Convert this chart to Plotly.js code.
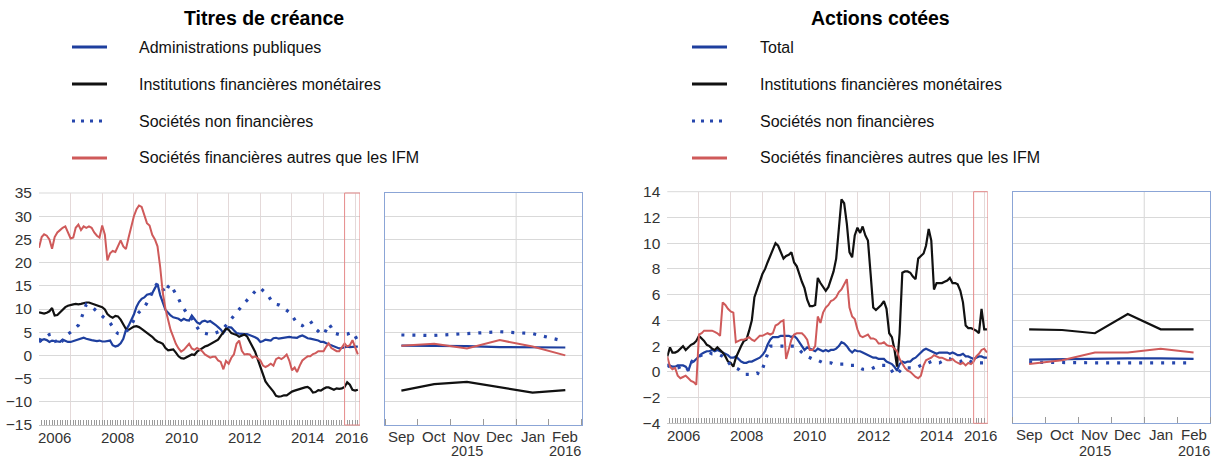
<!DOCTYPE html>
<html>
<head>
<meta charset="utf-8">
<script src="https://cdn.plot.ly/plotly-3.0.1.min.js"></script>
<style>html,body{margin:0;padding:0;background:#fff;}#chart{width:1214px;height:459px;}</style>
</head>
<body>
<div id="chart"></div>
<script>
// ---------------- DATA ----------------
// Monthly observations Jan 2006 .. Feb 2016 (annual growth rates, %)
const firstMonth = '2006-01';
const monthCount = 122;

// Titres de créance
const debtAdminPub = [3.6,3.3,3.5,3.3,2.9,3.2,3.1,3.0,2.9,3.4,
3.2,2.9,2.9,3.1,3.2,3.4,3.7,3.8,3.6,3.4,
3.3,3.2,3.1,3.2,3.0,3.0,3.1,3.2,2.2,1.9,
2.1,2.6,3.6,5.5,6.4,7.6,8.8,10.5,11.5,12.2,
12.5,13.1,13.2,13.4,14.5,15.4,13.0,11.2,9.8,9.2,
8.6,8.2,8.0,7.9,7.5,7.9,7.6,7.5,8.6,7.8,
7.1,6.8,7.3,7.5,7.2,7.4,6.9,6.6,6.1,5.6,
4.8,5.6,6.1,6.0,5.4,4.8,4.7,4.6,4.6,4.6,
4.4,4.2,3.9,3.6,2.9,3.1,3.4,3.3,3.2,3.7,
3.8,3.6,3.7,3.9,4.0,4.0,3.9,3.9,3.8,4.1,
4.3,4.0,3.7,3.6,3.5,3.3,3.2,2.9,2.9,2.6,
2.4,2.2,1.9,1.8,1.5,1.6,1.8,1.9,1.8,1.9,
1.9,1.9];
const debtIFM = [9.3,9.1,9.0,9.2,9.5,10.2,8.6,8.7,9.3,10.0,
10.4,10.7,10.9,11.0,11.1,11.0,11.1,11.3,11.4,11.4,
11.2,11.1,10.9,10.7,10.4,9.9,8.9,8.4,8.1,8.5,
8.4,7.7,6.8,5.7,5.5,5.9,6.2,6.3,6.1,5.7,
5.3,4.7,4.3,4.0,3.4,3.0,2.8,2.5,1.6,1.1,
1.2,1.3,0.6,-0.2,-0.6,-0.7,-0.4,-0.1,0.2,0.1,
0.8,1.2,1.6,1.9,2.1,2.4,2.7,3.1,3.4,4.2,
5.1,5.8,5.5,4.8,4.6,4.4,4.0,4.2,4.5,4.1,
3.0,2.0,0.8,-0.8,-2.5,-4.2,-5.6,-6.4,-7.0,-7.8,
-8.7,-8.9,-8.8,-8.6,-8.6,-8.2,-7.8,-7.6,-7.4,-7.2,
-7.0,-6.9,-6.8,-7.2,-8.0,-7.9,-7.5,-7.6,-7.2,-6.9,
-6.9,-7.1,-7.4,-7.1,-7.2,-7.1,-6.8,-5.8,-6.3,-7.4,
-7.6,-7.4];
const debtSNF = [2.9,3.3,3.8,4.2,4.5,4.6,3.5,2.2,2.5,3.2,
4.0,4.6,5.0,5.4,6.0,6.5,7.8,9.5,11.0,10.8,
10.5,10.0,9.5,9.0,8.5,8.0,7.5,7.0,6.2,5.2,
4.7,4.6,4.8,5.2,5.6,6.5,7.6,8.7,9.3,9.8,
10.4,11.3,12.3,13.5,14.8,15.6,15.2,14.2,13.4,14.8,
15.3,14.2,13.3,12.2,11.0,10.0,9.2,8.6,8.0,7.0,
6.0,5.2,4.9,4.8,4.6,4.5,4.6,4.8,5.0,5.3,
5.8,6.5,7.3,8.0,8.6,9.4,10.0,10.6,11.3,11.9,
12.6,13.2,13.8,14.4,14.5,14.0,13.4,12.9,12.0,11.3,
11.0,10.9,10.6,10.2,9.8,9.3,8.6,7.7,6.9,6.6,
6.4,6.8,7.3,7.4,6.5,5.7,5.2,4.6,4.5,5.5,
6.8,6.0,4.8,4.6,4.5,4.5,4.5,4.6,4.8,5.0,
4.2,3.0];
const debtAutres = [23.2,25.5,26.1,25.8,25.0,23.0,25.5,26.5,27.0,27.5,
27.8,26.5,25.2,25.4,27.5,28.2,27.0,27.8,27.5,27.8,
27.5,26.5,25.8,25.4,28.0,26.0,20.5,22.0,22.5,22.3,
23.6,24.8,23.5,22.9,25.4,27.5,30.0,31.5,32.3,32.0,
30.5,28.5,28.0,26.0,25.0,23.5,19.0,13.5,10.0,7.5,
5.5,4.0,2.5,1.5,0.8,1.2,2.0,2.5,1.5,1.2,
1.6,1.2,0.9,0.2,-0.2,-0.5,-0.3,-0.3,-1.1,-1.4,
-3.0,-1.2,-1.8,-0.5,0.2,2.5,3.2,1.0,0.2,0.3,
0.2,-0.5,-0.2,-0.6,-1.1,-2.2,-2.5,-2.2,-1.8,-2.2,
-0.8,-0.5,-0.8,-0.4,0.2,-1.1,-3.2,-2.6,-3.6,-2.2,
-1.1,-0.6,-0.2,-0.2,0.3,0.5,0.9,0.9,0.9,1.9,
2.6,1.6,1.2,0.9,0.9,1.9,2.6,1.9,2.2,3.3,
1.9,0.2];

// Actions cotées
const eqTotal = [0.6,0.5,0.4,0.4,0.5,0.5,0.5,0.4,0.1,0.7,
0.8,1.0,1.2,1.4,1.5,1.6,1.6,1.7,1.6,1.7,
1.6,1.5,1.4,1.3,1.1,1.1,1.2,1.0,0.8,0.7,
0.7,0.8,0.8,0.9,1.0,1.1,1.3,1.6,2.1,2.5,
2.7,2.7,2.7,2.8,2.8,2.8,2.8,2.7,2.8,2.6,
2.3,2.0,1.7,1.9,1.8,1.7,1.6,1.8,1.7,1.6,
1.7,1.6,1.7,1.7,1.8,2.0,2.3,2.2,2.0,1.7,
1.5,1.7,1.6,1.6,1.5,1.4,1.3,1.2,1.1,1.1,
1.0,1.0,1.0,0.8,0.7,0.6,0.4,0.1,0.6,0.8,
0.7,0.8,0.8,1.0,1.1,1.3,1.5,1.7,1.8,1.7,
1.6,1.5,1.4,1.5,1.5,1.5,1.5,1.4,1.5,1.4,
1.3,1.3,1.4,1.2,1.2,1.1,1.0,1.1,1.2,1.2,
1.1,1.1];
const eqIFM = [1.2,1.9,1.5,1.5,1.6,1.8,2.0,1.7,1.9,2.1,
2.2,2.4,2.8,2.6,2.4,2.1,2.0,1.8,1.7,1.9,
1.7,1.5,1.2,0.8,0.7,0.4,1.1,1.6,2.0,2.4,
2.5,3.2,4.0,5.8,6.5,7.0,7.6,8.0,8.5,9.0,
9.4,10.0,9.8,9.3,8.8,9.0,9.1,9.3,8.5,8.2,
7.6,7.0,6.5,5.6,5.1,5.1,5.2,7.3,6.9,6.6,
6.3,6.6,7.1,7.8,8.8,11.0,13.4,13.1,11.5,9.3,
8.9,10.6,11.2,10.8,11.3,10.6,10.2,7.6,5.0,4.8,
5.0,5.2,5.5,4.9,3.0,2.7,1.8,0.4,3.0,7.7,
7.8,7.8,7.7,7.4,7.2,8.8,9.0,9.2,9.8,11.1,
10.2,6.4,6.9,6.9,6.9,7.0,7.1,7.3,6.9,6.9,
6.8,6.3,5.4,3.6,3.4,3.4,3.3,3.2,3.0,4.9,
3.3,3.3];
const eqSNF = [0.5,0.4,0.3,0.3,0.3,0.4,0.5,0.4,0.1,0.7,
1.0,1.1,1.2,1.3,1.4,1.5,1.5,1.4,1.4,1.4,
1.3,1.2,1.0,0.8,0.5,0.4,0.3,0.2,0.0,-0.2,
-0.2,-0.2,-0.2,-0.2,-0.1,-0.2,0.2,0.8,1.4,2.0,
2.0,2.0,2.0,2.0,2.0,1.9,2.0,2.0,2.0,1.9,
1.7,1.5,1.3,1.2,1.1,1.0,0.9,0.9,0.8,0.7,
0.7,0.7,0.7,0.6,0.6,0.6,0.6,0.6,0.6,0.5,
0.5,0.5,0.4,0.3,0.2,0.2,0.2,0.2,0.3,0.4,
0.5,0.5,0.5,0.5,0.4,0.1,-0.2,-0.2,0.1,0.3,
0.3,0.3,0.3,0.3,0.3,0.4,0.5,0.6,0.6,0.7,
0.8,0.8,0.7,0.7,0.8,0.9,1.0,1.0,0.9,0.8,
0.8,0.8,0.9,1.0,0.9,0.8,0.7,0.7,0.7,0.7,
0.7,0.7];
const eqAutres = [1.2,0.4,0.2,0.3,-0.3,-0.5,-0.4,-0.3,-0.5,-0.7,
-0.8,-1.0,2.9,3.0,3.2,3.2,3.2,3.2,3.1,3.0,
2.8,5.4,5.2,4.9,4.7,4.6,2.3,2.4,2.5,2.5,
2.6,2.7,2.5,2.4,2.6,2.8,2.8,2.9,3.0,2.9,
3.0,3.6,3.7,3.9,4.0,1.0,1.7,2.5,2.9,3.0,
3.0,3.0,2.8,2.5,1.7,1.7,2.0,4.3,3.8,4.6,
5.0,5.2,5.5,5.6,5.8,6.2,6.4,6.8,7.2,5.0,
4.3,4.1,3.3,2.8,2.7,2.8,2.9,2.6,2.6,2.5,
2.2,2.2,2.3,2.1,2.0,2.0,1.8,1.6,1.0,0.6,
0.3,0.1,0.0,-0.2,-0.4,-0.5,-0.3,0.5,0.9,1.0,
1.1,1.3,1.2,1.1,1.1,1.0,0.9,0.9,1.0,0.8,
0.7,0.6,0.7,0.5,0.7,0.6,0.8,1.2,1.4,1.7,
1.8,1.5];

// Recent months (right-hand panels)
const recentMonths = ['Sep','Oct','Nov','Dec','Jan','Feb'];
const recentYears = [{at: 2, text: '2015'}, {at: 5, text: '2016'}];
const highlightStart = '2015-09-01';
const debtRecentAdmin  = [2.1,2.1,2.0,1.8,1.7,1.7];
const debtRecentIFM    = [-7.6,-6.2,-5.7,-6.9,-8.0,-7.5];
const debtRecentSNF    = [4.4,4.3,4.7,5.1,4.7,3.0];
const debtRecentAutres = [2.1,2.5,1.5,3.3,1.9,0.0];
const eqRecentTotal  = [0.95,1.0,1.0,1.05,1.05,1.0];
const eqRecentIFM    = [3.3,3.25,3.0,4.5,3.3,3.3];
const eqRecentSNF    = [0.75,0.7,0.7,0.7,0.7,0.7];
const eqRecentAutres = [0.6,0.9,1.5,1.5,1.8,1.5];

// Titles and legend
const titleDebt = 'Titres de créance';
const titleEq = 'Actions cotées';
const legendDebt = ['Administrations publiques','Institutions financières monétaires','Sociétés non financières','Sociétés financières autres que les IFM'];
const legendEq = ['Total','Institutions financières monétaires','Sociétés non financières','Sociétés financières autres que les IFM'];
const yearLabels = ['2006','2008','2010','2012','2014','2016'];
const yearLabelPos = ['2006-07-01','2008-07-01','2010-07-01','2012-07-01','2014-07-01','2015-11-20'];

// ---------------- BUILD ----------------
const months = [];
(function(){ const [y0,m0] = firstMonth.split('-').map(Number);
  for (let i=0;i<monthCount;i++){ const t=(m0-1)+i; const y=y0+Math.floor(t/12), m=t%12+1;
    months.push(y+'-'+String(m).padStart(2,'0')+'-01'); } })();
const yearStarts = []; for (let y=2006;y<=2016;y++) yearStarts.push(y+'-01-01');
const idx = recentMonths.map((_,i)=>i);

const W=1214, H=459;
const px = v => v/W, py = v => 1 - v/H;
const FONT = '"Liberation Sans", Arial, Helvetica, sans-serif';
const C = {blue:'#1e3f9e', black:'#111111', dot:'#2747ad', red:'#cf5a5a', grid:'#d9d9d9', vgrid:'#e4d9d9', tick:'#9a9a9a', box:'#8ba5d6', hl:'#e58a8a', text:'#333333'};
const styles = [
  {color:C.blue, width:2.2},
  {color:C.black, width:2.2},
  {color:C.dot, width:3.2, dash:'3px,8px'},
  {color:C.red, width:2}
];
function tr(x, y, s, xa, ya){ return {x:x, y:y, type:'scatter', mode:'lines', line:Object.assign({}, s), xaxis:xa, yaxis:ya, showlegend:false, hoverinfo:'skip'}; }

const data = [];
[debtAdminPub, debtIFM, debtSNF, debtAutres].forEach((s,i)=>data.push(tr(months, s, styles[i], 'x', 'y')));
[debtRecentAdmin, debtRecentIFM, debtRecentSNF, debtRecentAutres].forEach((s,i)=>data.push(tr(idx, s, styles[i], 'x2', 'y2')));
[eqTotal, eqIFM, eqSNF, eqAutres].forEach((s,i)=>data.push(tr(months, s, styles[i], 'x3', 'y3')));
[eqRecentTotal, eqRecentIFM, eqRecentSNF, eqRecentAutres].forEach((s,i)=>data.push(tr(idx, s, styles[i], 'x4', 'y4')));

const L = {x0:39, x1:360, y0:193, y1:425, end:'2016-02-26'};
const LS = {x0:385, x1:581.7};
const R = {x0:667.3, x1:987.7, y0:191.7, y1:423.3, end:'2016-02-10'};
const RS = {x0:1012.7, x1:1210};

function mainX(dom, end){ return {domain:dom, type:'date', range:['2006-01-01', end], tickmode:'array', tickvals:yearStarts,
  ticktext:yearStarts.map(()=>''), showticklabels:false, ticks:'inside', ticklen:9, tickcolor:C.tick, tickwidth:1,
  showgrid:true, gridcolor:C.vgrid, gridwidth:1, showline:true, linecolor:'#c4c4c4', zeroline:false,
  minor:{dtick:'M1', tick0:'2006-01-01', ticks:'inside', ticklen:5, tickcolor:C.tick, tickwidth:1, showgrid:false}}; }
function mainY(dom, rng, dt){ return {domain:dom, range:rng, dtick:dt, tick0:0, tickmode:'linear', showgrid:true, gridcolor:C.grid,
  zeroline:false, ticks:'', showline:false, tickfont:{family:FONT, size:15.5, color:C.text}, ticklabelstandoff:6}; }
function smallX(dom){ return {domain:dom, range:[-0.5,5.5], tickmode:'array', tickvals:idx, ticktext:recentMonths.map(()=>''),
  showticklabels:false, ticks:'', showgrid:false, zeroline:false, showline:true, mirror:true, linecolor:C.box, linewidth:1,
  minor:{tickmode:'linear', tick0:0.5, dtick:1, ticks:'inside', ticklen:6, tickcolor:C.tick, showgrid:false}}; }
function smallY(dom, rng, dt){ return {domain:dom, range:rng, dtick:dt, tick0:0, tickmode:'linear', showgrid:true, gridcolor:C.grid,
  zeroline:false, ticks:'', showticklabels:false, showline:true, mirror:true, linecolor:C.box, linewidth:1}; }

const yDomL = [py(L.y1), py(L.y0)], yDomR = [py(R.y1), py(R.y0)];
const layout = {
  width:W, height:H, autosize:false, margin:{l:0,r:0,t:0,b:0}, paper_bgcolor:'#fff', plot_bgcolor:'rgba(0,0,0,0)',
  font:{family:FONT, color:C.text}, showlegend:false,
  xaxis: Object.assign(mainX([px(L.x0),px(L.x1)], L.end), {anchor:'y'}),
  yaxis: Object.assign(mainY(yDomL, [-15,35], 5), {anchor:'x'}),
  xaxis2: Object.assign(smallX([px(LS.x0),px(LS.x1)]), {anchor:'y2'}),
  yaxis2: Object.assign(smallY(yDomL, [-15,35], 5), {anchor:'x2'}),
  xaxis3: Object.assign(mainX([px(R.x0),px(R.x1)], R.end), {anchor:'y3'}),
  yaxis3: Object.assign(mainY(yDomR, [-4,14], 2), {anchor:'x3'}),
  xaxis4: Object.assign(smallX([px(RS.x0),px(RS.x1)]), {anchor:'y4'}),
  yaxis4: Object.assign(smallY(yDomR, [-4,14], 2), {anchor:'x4'}),
  shapes: [], annotations: []
};

// year labels centred in the middle of the years (main panels)
[['x', L.y1], ['x3', R.y1]].forEach(([xa, bottom])=>{
  yearLabels.forEach((t,i)=>layout.annotations.push({xref:xa, yref:'paper', x:yearLabelPos[i], y:py(bottom+12), text:t,
    showarrow:false, xanchor:'center', yanchor:'middle', font:{family:FONT, size:15, color:C.text}}));
});

// highlight box for the recent months, top border and Dec/Jan separator in the zoom panels
[['x','y',L.end],['x3','y3',R.end]].forEach(([xa,ya,end])=>{
  layout.shapes.push({type:'rect', xref:xa, yref:ya+' domain', x0:highlightStart, x1:end, y0:0, y1:1, line:{color:C.hl, width:1}, layer:'above'});
  layout.shapes.push({type:'line', xref:xa+' domain', yref:ya+' domain', x0:0, x1:1, y0:1, y1:1, line:{color:C.grid, width:1}, layer:'below'});
});
[['x2','y2',L.y1],['x4','y4',R.y1]].forEach(([xa,ya,bottom])=>{
  layout.shapes.push({type:'line', xref:xa, yref:ya+' domain', x0:3.5, x1:3.5, y0:0, y1:1, line:{color:'#d6d6d6', width:1}, layer:'below'});
  recentMonths.forEach((m,i)=>layout.annotations.push({xref:xa, yref:'paper', x:idx[i], y:py(bottom+11), text:m, showarrow:false,
    xanchor:'center', yanchor:'middle', font:{family:FONT, size:15, color:C.text}}));
  recentYears.forEach(r=>layout.annotations.push({xref:xa, yref:'paper', x:r.at, y:py(451), text:r.text, showarrow:false,
    xanchor:'center', yanchor:'middle', font:{family:FONT, size:14.5, color:C.text}}));
});

// titles and legends
function legendBlock(titleX, symX0, symX1, textX, title, labels){
  layout.annotations.push({xref:'paper', yref:'paper', x:px(titleX), y:py(18), text:'<b>'+title+'</b>', showarrow:false,
    xanchor:'center', yanchor:'middle', font:{family:FONT, size:19.5, color:'#000'}});
  const rows = [47, 84, 121, 158];
  labels.forEach((lab,i)=>{
    const s = styles[i];
    layout.shapes.push({type:'line', xref:'paper', yref:'paper', x0:px(symX0), x1:px(symX1), y0:py(rows[i]), y1:py(rows[i]),
      line:{color:s.color, width:3, dash:s.dash ? '3px,6px' : 'solid'}});
    layout.annotations.push({xref:'paper', yref:'paper', x:px(textX), y:py(rows[i]), text:lab, showarrow:false,
      xanchor:'left', yanchor:'middle', font:{family:FONT, size:16, color:'#111'}});
  });
}
legendBlock(264, 72, 107, 137, titleDebt, legendDebt);
legendBlock(880, 692, 727, 758, titleEq, legendEq);

Plotly.newPlot('chart', data, layout, {staticPlot:true, displayModeBar:false});
</script>
</body>
</html>
